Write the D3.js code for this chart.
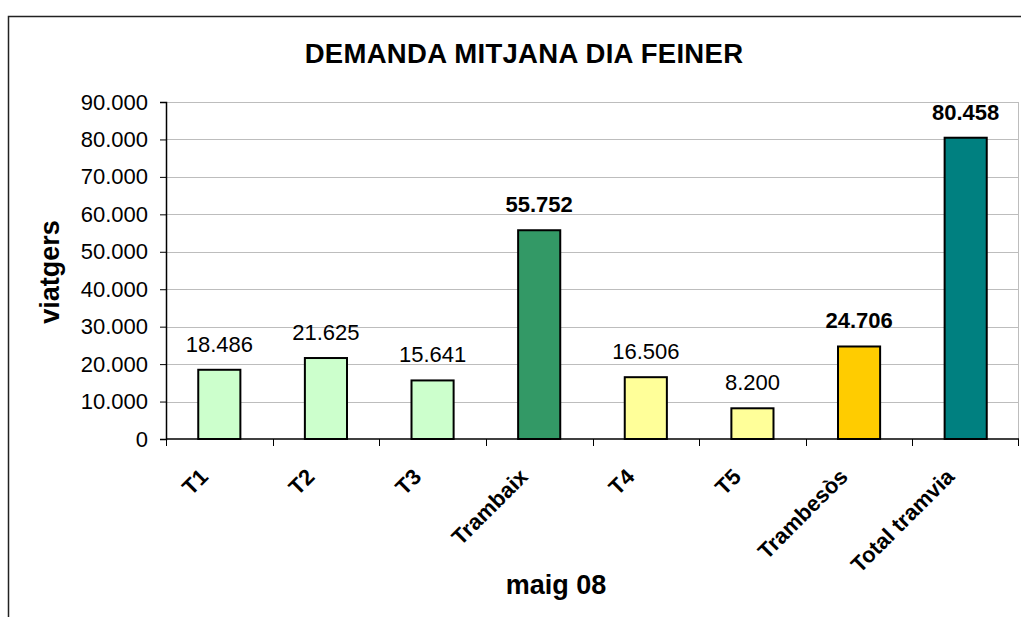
<!DOCTYPE html>
<html>
<head>
<meta charset="utf-8">
<script src="https://cdn.jsdelivr.net/npm/d3@7"></script>
<style>
  body { margin: 0; background: #fff; }
  svg text { font-family: "Liberation Sans", Arial, sans-serif; fill: #000; }
</style>
</head>
<body>
<div id="chart"></div>
<script>
// dades
var categories = ["T1", "T2", "T3", "Trambaix", "T4", "T5", "Trambesòs", "Total tramvia"];
var values = [18486, 21625, 15641, 55752, 16506, 8200, 24706, 80458];
var boldLabel = [false, false, false, true, false, false, true, true];
var barColors = ["#CCFFCC", "#CCFFCC", "#CCFFCC", "#339966", "#FFFF99", "#FFFF99", "#FFCC00", "#008080"];
var yTicks = [0, 10000, 20000, 30000, 40000, 50000, 60000, 70000, 80000, 90000];

var width = 1021, height = 617;
var margin = {left: 166, top: 102, right: 2, bottom: 178};

var svg = d3.select("#chart").append("svg")
  .attr("width", width)
  .attr("height", height);

// marc exterior
svg.append("rect")
  .attr("x", 8.5).attr("y", 16.5)
  .attr("width", 1040).attr("height", 640)
  .attr("fill", "none")
  .attr("stroke", "#222")
  .attr("stroke-width", 1.5);

var x = d3.scaleBand()
  .domain(categories)
  .range([margin.left, width - margin.right])
  .padding(0);

var y = d3.scaleLinear()
  .domain([0, 90000])
  .range([height - margin.bottom, margin.top]);

var fmt = function(v) { return d3.format(",")(v).replace(/,/g, "."); };

// graella
svg.append("g").selectAll("line")
  .data(yTicks.slice(1))
  .enter().append("line")
  .attr("x1", margin.left).attr("x2", width - margin.right)
  .attr("y1", function(d) { return Math.round(y(d)) + 0.5; })
  .attr("y2", function(d) { return Math.round(y(d)) + 0.5; })
  .attr("stroke", "#bdbdbd")
  .attr("stroke-width", 1);

// vora dreta de l'area
svg.append("line")
  .attr("x1", width - margin.right - 0.5).attr("x2", width - margin.right - 0.5)
  .attr("y1", y(90000)).attr("y2", y(0))
  .attr("stroke", "#bdbdbd");

// barres
var bw = x.bandwidth() * 0.395;
svg.append("g").selectAll("rect")
  .data(values)
  .enter().append("rect")
  .attr("x", function(d, i) { return x(categories[i]) + x.bandwidth() / 2 - bw / 2; })
  .attr("y", function(d) { return y(d); })
  .attr("width", bw)
  .attr("height", function(d) { return y(0) - y(d); })
  .attr("fill", function(d, i) { return barColors[i]; })
  .attr("stroke", "#000")
  .attr("stroke-width", 2);

// eix Y
var yAxis = svg.append("g")
  .attr("transform", "translate(" + margin.left + ",0)")
  .call(d3.axisLeft(y).tickValues(yTicks).tickFormat(fmt).tickSizeOuter(0).tickSize(6).tickPadding(12));
yAxis.select(".domain").attr("stroke", "#000").attr("stroke-width", 1.5);
yAxis.selectAll(".tick line").attr("stroke", "#000");
yAxis.selectAll("text")
  .style("font-size", "22px")
  .attr("fill", "#000");

// eix X
svg.append("line")
  .attr("x1", margin.left).attr("x2", width - margin.right)
  .attr("y1", y(0)).attr("y2", y(0))
  .attr("stroke", "#000").attr("stroke-width", 1.5);
svg.append("g").selectAll("line")
  .data(categories.concat([null]))
  .enter().append("line")
  .attr("x1", function(d) { return d === null ? width - margin.right - 0.5 : Math.round(x(d)) + 0.5; })
  .attr("x2", function(d) { return d === null ? width - margin.right - 0.5 : Math.round(x(d)) + 0.5; })
  .attr("y1", y(0)).attr("y2", y(0) + 7)
  .attr("stroke", "#000");

svg.append("g").selectAll("text")
  .data(categories)
  .enter().append("text")
  .attr("transform", function(d) {
    return "translate(" + (x(d) + x.bandwidth() / 2 - 10) + "," + (y(0) + 39) + ") rotate(-45)";
  })
  .attr("text-anchor", "end")
  .style("font-size", "22px")
  .style("font-weight", "bold")
  .text(function(d) { return d; });

// etiquetes de valor
svg.append("g").selectAll("text")
  .data(values)
  .enter().append("text")
  .attr("x", function(d, i) { return x(categories[i]) + x.bandwidth() / 2; })
  .attr("y", function(d) { return y(d) - 18; })
  .attr("text-anchor", "middle")
  .style("font-size", "22px")
  .style("font-weight", function(d, i) { return boldLabel[i] ? "bold" : "normal"; })
  .text(function(d) { return fmt(d); });

// titols
svg.append("text")
  .attr("x", 524).attr("y", 63)
  .attr("text-anchor", "middle")
  .style("font-size", "27.5px")
  .style("font-weight", "bold")
  .style("letter-spacing", "0.3px")
  .text("DEMANDA MITJANA DIA FEINER");

svg.append("text")
  .attr("transform", "translate(59,272) rotate(-90)")
  .attr("text-anchor", "middle")
  .style("font-size", "27px")
  .style("font-weight", "bold")
  .text("viatgers");

svg.append("text")
  .attr("x", 556).attr("y", 594)
  .attr("text-anchor", "middle")
  .style("font-size", "27px")
  .style("font-weight", "bold")
  .text("maig 08");
</script>
</body>
</html>
